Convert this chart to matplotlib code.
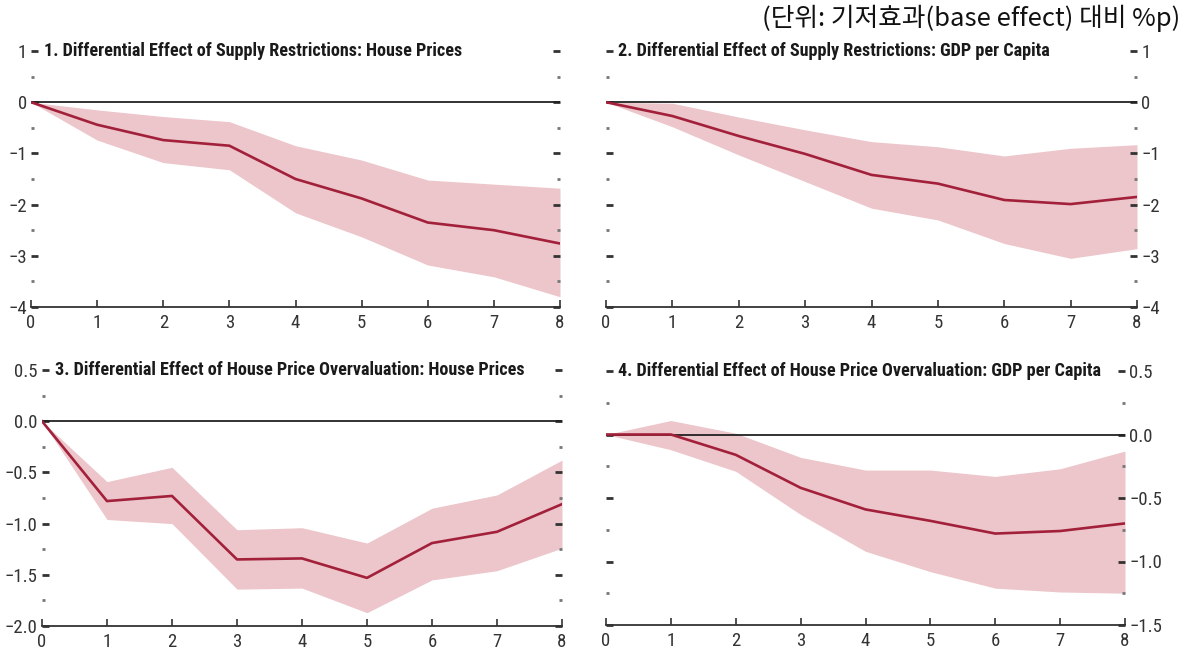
import matplotlib
matplotlib.use("Agg")
import matplotlib.pyplot as plt
from matplotlib.ticker import MultipleLocator, FixedLocator
import numpy as np
from matplotlib import font_manager

names = {f.name for f in font_manager.fontManager.ttflist}
NARROW = "DejaVu Sans"
for cand in ["Roboto Condensed", "Archivo Narrow", "PT Sans Narrow",
             "Open Sans Condensed", "IBM Plex Sans Condensed", "Liberation Sans Narrow"]:
    if cand in names:
        NARROW = cand
        break

horizons = [0, 1, 2, 3, 4, 5, 6, 7, 8]

titles = [
    "1. Differential Effect of Supply Restrictions: House Prices",
    "2. Differential Effect of Supply Restrictions: GDP per Capita",
    "3. Differential Effect of House Price Overvaluation: House Prices",
    "4. Differential Effect of House Price Overvaluation: GDP per Capita",
]

p1_mid = [0, -0.44, -0.74, -0.85, -1.50, -1.88, -2.35, -2.50, -2.76]
p1_up = [0, -0.15, -0.28, -0.38, -0.85, -1.13, -1.52, -1.60, -1.68]
p1_lo = [0, -0.74, -1.18, -1.32, -2.16, -2.63, -3.18, -3.41, -3.80]

p2_mid = [0, -0.27, -0.66, -1.01, -1.42, -1.59, -1.91, -1.99, -1.85]
p2_up = [0, -0.02, -0.29, -0.54, -0.77, -0.87, -1.05, -0.90, -0.83]
p2_lo = [0, -0.48, -1.03, -1.55, -2.07, -2.30, -2.76, -3.05, -2.86]

p3_mid = [0, -0.78, -0.73, -1.35, -1.34, -1.53, -1.19, -1.08, -0.81]
p3_up = [0, -0.59, -0.45, -1.06, -1.04, -1.19, -0.85, -0.72, -0.38]
p3_lo = [0, -0.96, -1.00, -1.64, -1.63, -1.87, -1.55, -1.46, -1.24]

p4_mid = [0, 0.0, -0.16, -0.42, -0.59, -0.68, -0.78, -0.76, -0.70]
p4_up = [0, 0.11, 0.01, -0.18, -0.28, -0.28, -0.33, -0.27, -0.13]
p4_lo = [0, -0.12, -0.29, -0.63, -0.92, -1.08, -1.21, -1.24, -1.25]

ylims = [(-4, 1), (-4, 1), (-2.0, 0.5), (-1.5, 0.5)]
major = [1, 1, 0.5, 0.5]
label_side = ["left", "right", "left", "right"]
decimals = [0, 0, 1, 1]

unit_note = "(단위: 기저효과(base effect) 대비 %p)"

W, H = 1186, 653
fig = plt.figure(figsize=(W / 100, H / 100), dpi=100)
renderer = fig.canvas.get_renderer()

positions = [
    (31, 560, 51, 307),
    (606, 1137, 51, 307),
    (42, 562, 370, 626),
    (606, 1125, 371, 625),
]

data = [(p1_mid, p1_up, p1_lo), (p2_mid, p2_up, p2_lo),
        (p3_mid, p3_up, p3_lo), (p4_mid, p4_up, p4_lo)]

BAND = "#ecc6cb"
LINE = "#a3203a"
TXT = "#333333"

# size the title font so title 1 spans about 420 px like the reference
probe = fig.text(0, 0, titles[0], fontsize=10, fontweight="bold", family=NARROW)
w10 = probe.get_window_extent(renderer).width
probe.remove()
TSIZE = min(14.0, 10 * 420 / w10)

TICKSIZE = 13.5


def fmt(v, d):
    s = f"{v:.{d}f}"
    if s.startswith("-"):
        s = "\u2212" + s[1:]
    return s


for i in range(4):
    l, r, t, b = positions[i]
    ax = fig.add_axes([l / W, 1 - b / H, (r - l) / W, (b - t) / H])
    mid, up, lo = data[i]
    ax.fill_between(horizons, lo, up, color=BAND, lw=0, zorder=1)
    ax.axhline(0, color="#222222", lw=1.3, zorder=2)
    ax.plot(horizons, mid, color=LINE, lw=1.9, zorder=3)
    ax.set_xlim(0, 8)
    ax.set_ylim(*ylims[i])
    for s in ["top", "left", "right"]:
        ax.spines[s].set_visible(False)
    ax.spines["bottom"].set_color("#333333")
    ax.spines["bottom"].set_linewidth(1.3)
    ax.xaxis.set_major_locator(FixedLocator(horizons))
    ax.set_xticklabels([str(h) for h in horizons])
    ax.tick_params(axis="x", direction="in", length=5, width=1.2, color="#333333",
                   labelsize=TICKSIZE, labelcolor=TXT, pad=5)
    for lab in ax.get_xticklabels():
        lab.set_fontfamily(NARROW)
    lo_y, hi_y = ylims[i]
    m = major[i]
    ticks = list(np.arange(lo_y, hi_y + m / 4, m))
    ax.yaxis.set_major_locator(FixedLocator(ticks))
    ax.yaxis.set_minor_locator(MultipleLocator(m / 2))
    ax.set_yticklabels([fmt(v, decimals[i]) for v in ticks])
    left_lab = label_side[i] == "left"
    ax.tick_params(axis="y", which="major", direction="in", length=5, width=2.0,
                   color="#333333", left=True, right=True,
                   labelleft=left_lab, labelright=not left_lab,
                   labelsize=TICKSIZE, labelcolor=TXT, pad=3)
    ax.tick_params(axis="y", which="minor", direction="in", length=2.5, width=2.0,
                   color="#777777", left=True, right=True)
    for lab in ax.get_yticklabels():
        lab.set_fontfamily(NARROW)
    ax.annotate(titles[i], xy=(0, 1), xycoords="axes fraction",
                xytext=(9, 0), textcoords="offset points",
                ha="left", va="center", fontsize=TSIZE, fontweight="bold",
                family=NARROW, color="#1a1a1a")
    ax.set_facecolor("none")

fig.text(1180 / W, 1 - 18 / H, unit_note, ha="right", va="center",
         fontsize=18.5, family=["Noto Sans CJK KR", "DejaVu Sans"], color="#111111")

fig.savefig("out.png", dpi=100, facecolor="white")
